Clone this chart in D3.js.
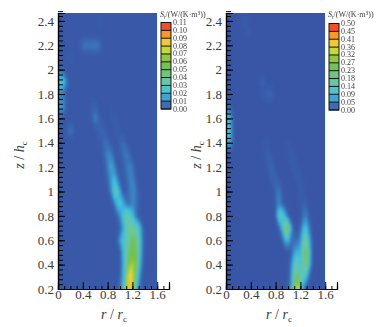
<!DOCTYPE html>
<html>
<head>
<meta charset="utf-8">
<script src="https://cdnjs.cloudflare.com/ajax/libs/d3/7.8.5/d3.min.js"></script>
<style>
  html, body { margin: 0; padding: 0; background: #fff; }
  text { font-family: "Liberation Serif", serif; fill: #3a3a3a; }
</style>
</head>
<body>
<div id="chart"></div>
<script>
// r / rc columns and z / hc rows of the field, values below are in units of 0.001
var rValues = d3.range(33).map(i => i * 0.05);
var zValues = d3.range(24).map(i => 0.2 + i * 0.1);

// Left panel, one row per z from 0.2 upward
var leftField = [
  [1,1,1,1,1,1,1,1,1,1,1,1,1,1,1,1,1,1,1,2,6,24,62,92,68,34,8,2,1,1,1,1,1],
  [1,1,1,1,1,1,1,1,1,1,1,1,1,1,1,1,1,1,1,1,4,18,46,92,78,44,18,3,1,1,1,1,1],
  [1,1,1,1,1,1,1,1,1,1,1,1,1,1,1,1,1,1,1,1,2,16,36,62,74,58,30,8,1,1,1,1,1],
  [1,1,1,1,1,1,1,1,1,1,1,1,1,1,1,1,1,1,1,1,3,18,36,52,60,58,34,10,2,1,1,1,1],
  [1,1,1,1,1,1,1,1,1,1,1,1,1,1,1,1,1,1,1,3,14,26,28,42,54,48,34,12,2,1,1,1,1],
  [1,1,1,1,1,1,1,1,1,1,1,1,1,1,1,1,1,1,1,1,5,14,32,42,38,32,28,9,2,1,1,1,1],
  [1,1,1,1,1,1,1,1,1,1,1,1,1,1,1,1,1,1,1,4,12,24,36,32,24,10,3,1,1,1,1,1,1],
  [1,1,1,1,1,1,1,1,1,1,1,1,1,1,1,1,1,2,6,20,26,18,8,7,12,9,3,1,1,1,1,1,1],
  [1,1,1,1,1,1,1,1,1,1,1,1,1,1,1,1,2,8,26,34,14,3,3,7,12,10,3,1,1,1,1,1,1],
  [1,1,1,1,1,1,1,1,1,1,1,1,1,1,1,2,5,14,22,13,3,2,4,10,12,5,1,1,1,1,1,1,1],
  [1,1,1,1,1,1,1,1,1,1,1,1,1,1,1,2,9,18,13,3,1,3,7,12,8,2,1,1,1,1,1,1,1],
  [1,1,1,1,1,1,1,1,1,1,1,1,1,1,2,5,12,12,5,1,3,6,10,6,2,1,1,1,1,1,1,1,1],
  [1,1,1,1,1,1,1,1,1,1,1,1,1,2,3,7,6,3,1,2,5,6,3,1,1,1,1,1,1,1,1,1,1],
  [1,1,1,4,9,4,1,1,1,1,1,1,1,4,6,4,1,1,2,4,3,1,1,1,1,1,1,1,1,1,1,1,1],
  [6,5,2,1,1,1,1,1,1,1,1,4,11,6,1,1,1,2,3,2,1,1,1,1,1,1,1,1,1,1,1,1,1],
  [14,18,9,3,1,1,1,1,1,1,1,4,5,1,1,1,1,2,1,1,1,1,1,1,1,1,1,1,1,1,1,1,1],
  [10,12,6,1,1,1,1,1,1,1,1,1,1,1,1,1,1,1,1,1,1,1,1,1,1,1,1,1,1,1,1,1,1],
  [22,26,20,6,1,1,1,1,1,1,1,1,1,1,1,1,1,1,1,1,1,1,1,1,1,1,1,1,1,1,1,1,1],
  [8,6,3,1,1,1,1,1,1,1,1,1,1,1,1,1,1,1,1,1,1,1,1,1,1,1,1,1,1,1,1,1,1],
  [1,1,1,2,3,3,1,1,1,1,1,1,1,1,1,1,1,1,1,1,1,1,1,1,1,1,1,1,1,1,1,1,1],
  [1,1,1,1,1,1,1,3,7,8,8,8,9,8,4,1,1,1,1,1,1,1,1,1,1,1,1,1,1,1,1,1,1],
  [1,1,1,1,1,1,1,1,1,1,1,1,1,1,1,1,1,1,1,1,1,1,1,1,1,1,1,1,1,1,1,1,1],
  [1,1,1,1,1,1,1,1,1,1,1,1,1,3,3,1,1,1,1,1,1,1,1,1,1,1,1,1,1,1,1,1,1],
  [1,1,1,1,1,1,1,1,1,1,1,1,1,1,1,1,1,1,1,1,1,1,1,1,1,1,1,1,1,1,1,1,1]
];

// Right panel, same grid
var rightField = [
  [3,3,3,3,3,3,3,3,3,3,3,3,3,3,3,3,3,3,3,3,8,60,240,390,170,40,8,3,3,3,3,3,3],
  [3,3,3,3,3,3,3,3,3,3,3,3,3,3,3,3,3,3,3,3,6,50,180,250,150,125,90,14,3,3,3,3,3],
  [3,3,3,3,3,3,3,3,3,3,3,3,3,3,3,3,3,3,3,3,3,40,130,160,100,190,220,80,8,3,3,3,3],
  [3,3,3,3,3,3,3,3,3,3,3,3,3,3,3,3,3,3,3,3,3,15,70,90,80,210,235,90,8,3,3,3,3],
  [3,3,3,3,3,3,3,3,3,3,3,3,3,3,3,3,3,3,10,70,100,30,30,30,50,160,170,70,6,3,3,3,3],
  [3,3,3,3,3,3,3,3,3,3,3,3,3,3,3,3,3,15,80,220,240,70,8,3,20,90,100,30,3,3,3,3,3],
  [3,3,3,3,3,3,3,3,3,3,3,3,3,3,3,3,10,130,140,90,25,3,3,3,3,40,45,10,3,3,3,3,3],
  [3,3,3,3,3,3,3,3,3,3,3,3,3,3,3,3,15,60,25,6,3,3,3,3,12,20,14,3,3,3,3,3,3],
  [3,3,3,3,3,3,3,3,3,3,3,3,3,3,3,3,20,50,15,3,3,3,3,3,18,14,4,3,3,3,3,3,3],
  [3,3,3,3,3,3,3,3,3,3,3,3,3,3,8,22,25,10,3,3,3,3,8,16,14,6,3,3,3,3,3,3,3],
  [3,3,3,3,3,3,3,3,3,3,3,3,3,8,20,22,8,3,3,3,3,8,16,14,5,3,3,3,3,3,3,3,3],
  [3,3,3,3,3,3,3,3,3,3,3,3,6,16,18,6,3,3,3,3,8,14,10,4,3,3,3,3,3,3,3,3,3],
  [70,90,30,3,3,3,3,3,3,3,3,3,8,12,6,3,3,3,3,6,10,6,3,3,3,3,3,3,3,3,3,3,3],
  [110,120,30,3,3,3,3,3,3,3,3,6,8,6,3,3,3,3,5,8,4,3,3,3,3,3,3,3,3,3,3,3,3],
  [110,110,25,3,3,3,3,3,3,3,3,3,3,3,3,3,3,3,4,3,3,3,3,3,3,3,3,3,3,3,3,3,3],
  [35,30,8,3,3,3,3,3,3,3,3,3,3,3,3,3,3,3,3,3,3,3,3,3,3,3,3,3,3,3,3,3,3],
  [3,3,3,3,3,3,3,3,3,3,3,8,14,20,24,20,6,3,3,3,3,3,3,3,3,3,3,3,3,3,3,3,3],
  [3,3,3,3,3,3,3,3,3,3,5,14,20,8,3,3,3,3,3,3,3,3,3,3,3,3,3,3,3,3,3,3,3],
  [3,3,3,3,3,3,3,3,3,3,4,3,3,3,3,3,3,3,3,3,3,3,3,3,3,3,3,3,3,3,3,3,3],
  [3,3,3,3,3,3,3,3,3,3,3,3,3,3,3,3,3,3,3,3,3,3,3,3,3,3,3,3,3,3,3,3,3],
  [3,3,3,3,3,3,3,3,3,3,3,3,3,3,3,3,3,3,3,3,3,3,3,3,3,3,3,3,3,3,3,3,3],
  [3,3,3,3,3,3,6,12,8,3,3,3,3,3,3,3,3,3,3,3,3,3,3,3,3,3,3,3,3,3,3,3,3],
  [3,3,3,3,3,8,12,8,3,3,3,3,3,3,3,3,3,3,3,3,3,3,3,3,3,3,3,3,3,3,3,3,3],
  [3,3,3,3,6,8,6,3,3,3,3,3,3,3,3,3,3,3,3,3,3,3,3,3,3,3,3,3,3,3,3,3,3]
];

var leftLegendLabels = ["0.00","0.01","0.02","0.03","0.04","0.05","0.06","0.07","0.08","0.09","0.10","0.11"];
var rightLegendLabels = ["0.00","0.05","0.09","0.14","0.18","0.23","0.27","0.32","0.36","0.41","0.45","0.50"];
var legendColors = ["#3953a4","#3a82c4","#3fc1e3","#5dc6b8","#6fc794","#70c163","#76c044","#a6ce39","#e4e234","#f9b233","#f47c20","#ed2224"];

var rMajorTicks = [0, 0.4, 0.8, 1.2, 1.6];
var rMinorTicks = d3.range(18).map(i => i * 0.1);
var zMajorTicks = [0.2, 0.4, 0.6, 0.8, 1, 1.2, 1.4, 1.6, 1.8, 2, 2.2, 2.4];
var zMinorTicks = d3.range(58).map(i => 0.2 + i * 0.04);

var svgWidth = 380;
var svgHeight = 327;
var plotTop = 13;
var plotBottom = 289;

var svg = d3.select("#chart")
  .append("svg")
  .attr("width", svgWidth)
  .attr("height", svgHeight)
  .style("display", "block");

svg.append("defs").append("filter")
  .attr("id", "soften")
  .append("feGaussianBlur")
  .attr("stdDeviation", 1.4);

function drawPanel(p) {
  var xScale = d3.scaleLinear().domain([0, 1.79]).range([p.left, p.left + 111]);
  var zScale = d3.scaleLinear().domain([0.2, 2.465]).range([plotBottom, plotTop]);
  var maxValue = p.maxValue;
  var colorScale = d3.scaleLinear()
    .domain(legendColors.map((c, i) => i / (legendColors.length - 1) * maxValue))
    .range(legendColors)
    .clamp(true);

  var plotRight = xScale(1.6);

  // Step 1: the contour field, clipped to the plot box
  var clipId = "clip" + p.left;
  svg.select("defs").append("clipPath")
    .attr("id", clipId)
    .append("rect")
    .attr("x", p.left)
    .attr("y", plotTop)
    .attr("width", plotRight - p.left)
    .attr("height", plotBottom - plotTop);

  var heat = svg.append("g").attr("clip-path", `url(#${clipId})`);
  heat.append("rect")
    .attr("x", p.left)
    .attr("y", plotTop)
    .attr("width", plotRight - p.left)
    .attr("height", plotBottom - plotTop)
    .attr("fill", colorScale(p.baseValue));

  var flat = d3.merge(p.field);
  var thresholds = d3.range(1, 60).map(i => i / 60 * maxValue).filter(t => t > p.baseValue);
  var contours = d3.contours()
    .size([rValues.length, zValues.length])
    .thresholds(thresholds)(flat);

  // grid points sit at half cell offsets in d3.contours output
  var gridPath = d3.geoPath(d3.geoTransform({
    point: function (x, y) {
      this.stream.point(xScale((x - 0.5) * 0.05), zScale(0.2 + (y - 0.5) * 0.1));
    }
  }));

  heat.append("g")
    .attr("filter", "url(#soften)")
    .selectAll("path")
    .data(contours)
    .enter()
    .append("path")
    .attr("d", gridPath)
    .attr("fill", d => colorScale(d.value));

  // Step 2: axes with ticks pointing into the plot
  var minorLeft = d3.axisLeft(zScale).tickValues(zMinorTicks).tickSize(-5).tickFormat("");
  var majorLeft = d3.axisLeft(zScale).tickValues(zMajorTicks).tickSize(-7).tickPadding(4)
    .tickFormat(d => d3.format("~g")(d));
  var minorBottom = d3.axisBottom(xScale).tickValues(rMinorTicks).tickSize(-3).tickFormat("");
  var majorBottom = d3.axisBottom(xScale).tickValues(rMajorTicks).tickSize(-7).tickPadding(1)
    .tickFormat(d => d3.format("~g")(d));

  [minorLeft, majorLeft].forEach(function (axis) {
    svg.append("g").attr("transform", `translate(${p.left},0)`).call(axis)
      .call(g => g.select(".domain").attr("stroke-width", 1.2))
      .call(g => g.selectAll("text").style("font-size", "13px"));
  });
  [minorBottom, majorBottom].forEach(function (axis) {
    svg.append("g").attr("transform", `translate(0,${plotBottom})`).call(axis)
      .call(g => g.select(".domain").attr("stroke-width", 1.2))
      .call(g => g.selectAll("text").style("font-size", "13px"));
  });

  // Step 3: axis titles
  var rLabel = svg.append("text")
    .attr("x", p.rLabelX)
    .attr("y", 319)
    .attr("text-anchor", "middle")
    .style("font-size", "14px");
  rLabel.append("tspan").style("font-style", "italic").text("r");
  rLabel.append("tspan").text(" / ");
  rLabel.append("tspan").style("font-style", "italic").text("r");
  rLabel.append("tspan").attr("dy", 3).style("font-size", "9px").text("c");

  var zLabel = svg.append("text")
    .attr("transform", `translate(${p.zLabelX},155) rotate(-90)`)
    .attr("text-anchor", "middle")
    .style("font-size", "14px");
  zLabel.append("tspan").style("font-style", "italic").text("z");
  zLabel.append("tspan").text(" / ");
  zLabel.append("tspan").style("font-style", "italic").text("h");
  zLabel.append("tspan").attr("dy", 3).style("font-size", "9px").text("c");

  // Step 4: legend, the slight opacity keeps small text free of colour fringes
  var legendY = d3.scaleLinear().domain([0, 11]).range([p.legendBottom, p.legendTop]);
  var legend = svg.append("g").attr("opacity", 0.99);
  legend.selectAll("rect")
    .data(d3.range(11))
    .enter()
    .append("rect")
    .attr("x", p.legendX)
    .attr("y", d => legendY(d + 1))
    .attr("width", 10)
    .attr("height", d => legendY(d) - legendY(d + 1))
    .attr("fill", d => d3.interpolateRgb(legendColors[d], legendColors[d + 1])(0.5));
  legend.selectAll("line")
    .data(d3.range(12))
    .enter()
    .append("line")
    .attr("x1", p.legendX)
    .attr("x2", p.legendX + 10)
    .attr("y1", d => legendY(d))
    .attr("y2", d => legendY(d))
    .attr("stroke", "#111")
    .attr("stroke-width", 1);
  legend.append("rect")
    .attr("x", p.legendX)
    .attr("y", p.legendTop)
    .attr("width", 10)
    .attr("height", p.legendBottom - p.legendTop)
    .attr("fill", "none")
    .attr("stroke", "#111");
  legend.selectAll("text.level")
    .data(p.legendLabels)
    .enter()
    .append("text")
    .attr("class", "level")
    .attr("x", p.legendX + 12)
    .attr("y", (d, i) => legendY(i) + 2.5)
    .style("font-size", "8px")
    .text(d => d);

  var title = legend.append("text")
    .attr("x", p.legendX - 1)
    .attr("y", 17)
    .style("font-size", "8px");
  title.append("tspan").style("font-style", "italic").text("S");
  title.append("tspan").attr("dy", 1.5).style("font-size", "5.5px").text("t");
  title.append("tspan").attr("dy", -1.5).text("/(W/(K·m");
  title.append("tspan").attr("dy", -2).style("font-size", "5.5px").text("3");
  title.append("tspan").attr("dy", 2).text("))");
}

drawPanel({
  left: 58, field: leftField, maxValue: 110, baseValue: 1,
  legendX: 161, legendTop: 22.5, legendBottom: 109, legendLabels: leftLegendLabels,
  rLabelX: 114, zLabelX: 24
});

drawPanel({
  left: 226, field: rightField, maxValue: 500, baseValue: 3,
  legendX: 329, legendTop: 23.5, legendBottom: 110, legendLabels: rightLegendLabels,
  rLabelX: 279, zLabelX: 201
});
</script>
</body>
</html>
